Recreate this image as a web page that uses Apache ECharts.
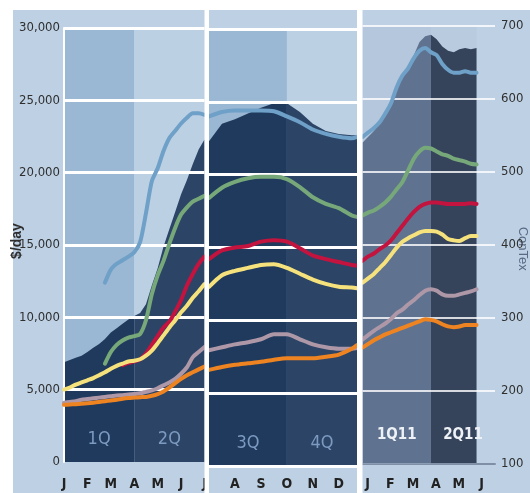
<!DOCTYPE html>
<html>
<head>
<meta charset="utf-8">
<script src="https://cdn.jsdelivr.net/npm/echarts@6/dist/echarts.min.js"></script>
<style>
  html, body { margin: 0; padding: 0; background: #fff; }
  #chart { width: 530px; height: 493px; }
</style>
</head>
<body>
<div id="chart"></div>
<script>
// Position of each sample in months (0 = start of Jan 2010)
const monthPos = [
  0, 0.25, 0.5, 0.75, 1, 1.25, 1.5, 1.75, 2, 2.25, 2.5, 2.75, 3, 3.25, 3.5, 3.75, 4, 4.25, 4.5, 4.75, 5, 5.25, 5.5, 5.75, 6,
  6.5, 7, 7.5, 8, 8.5, 9, 9.5, 10, 10.5, 11, 11.5, 11.7,
  12, 12.25, 12.5, 12.75, 13, 13.25, 13.5, 13.75, 14, 14.25, 14.5, 14.75, 15, 15.25, 15.5, 15.75, 16, 16.25, 16.5, 16.75, 17
];
const monthLetters = ['J', 'F', 'M', 'A', 'M', 'J', 'J', 'A', 'S', 'O', 'N', 'D'];

// Upper edge of the shaded range, $/day
const envelope = [
  6900, 7050, 7200, 7350, 7600, 7900, 8150, 8500, 8950, 9250, 9550, 9850, 10100, 10300, 10900, 12200, 13400, 14900, 16100, 17300, 18500, 19500, 20600, 21600, 22300,
  23500, 23800, 24200, 24600, 24900, 24900, 24300, 23500, 23000, 22800, 22700, 22700,
  22000, 22400, 22800, 23300, 23800, 24500, 25600, 26600, 27300, 28000, 28900, 29300, 29400, 29100, 28600, 28300, 28200, 28400, 28500, 28400, 28500
];

// Rate lines, $/day
const blueLine = [
  null, null, null, null, null, null, null, 12400, 13300, 13700, 13950, 14200, 14500, 15200, 17200, 19400, 20300, 21500, 22400, 22900, 23400, 23800, 24100, 24100, 24000,
  24300, 24400, 24400, 24400, 24350, 24000, 23600, 23100, 22800, 22600, 22500, 22600,
  22400, 22700, 23000, 23400, 24000, 24700, 25800, 26600, 27100, 27800, 28300, 28500, 28200, 28000, 27400, 27000, 26800, 26800, 26900, 26800, 26800
];
const greenLine = [
  null, null, null, null, null, null, null, 6800, 7600, 8100, 8400, 8600, 8700, 8850, 9800, 11600, 12900, 13900, 15100, 16200, 17100, 17600, 18000, 18200, 18400,
  19100, 19500, 19750, 19850, 19850, 19700, 19150, 18450, 18000, 17700, 17200, 17100,
  17000, 17200, 17350, 17600, 17900, 18300, 18800, 19300, 20100, 20900, 21400, 21650, 21600, 21400, 21200, 21100, 20900, 20800, 20700, 20550, 20500
];
const crimsonLine = [
  null, null, null, null, null, null, null, null, null, null, 6700, 6850, 6950, 7100, 7500, 8100, 8700, 9300, 9700, 10400, 11200, 12200, 13000, 13700, 14200,
  14800, 15000, 15100, 15400, 15500, 15400, 14950, 14450, 14200, 14000, 13800, 13750,
  13900, 14200, 14400, 14700, 14950, 15300, 15800, 16300, 16800, 17250, 17600, 17800, 17900, 17900, 17850, 17800, 17800, 17800, 17800, 17850, 17800
];
const yellowLine = [
  5000, 5150, 5350, 5500, 5650, 5800, 6000, 6200, 6450, 6650, 6800, 6950, 7000, 7100, 7350, 7700, 8200, 8750, 9300, 9800, 10350, 10800, 11350, 11800, 12300,
  13100, 13400, 13600, 13800, 13850, 13600, 13200, 12800, 12500, 12300, 12250, 12200,
  12400, 12700, 13000, 13400, 13800, 14300, 14800, 15200, 15450, 15650, 15850, 15950, 15950, 15900, 15700, 15400, 15300, 15250, 15450, 15600, 15600
];
const mauveLine = [
  4100, 4150, 4200, 4300, 4350, 4400, 4450, 4500, 4550, 4600, 4620, 4660, 4700, 4750, 4850, 4950, 5100, 5300, 5500, 5750, 6100, 6550, 7250, 7600, 7950,
  8150, 8350, 8500, 8700, 9050, 9050, 8700, 8350, 8150, 8050, 8050, 8100,
  8500, 8800, 9100, 9350, 9600, 9900, 10300, 10550, 10900, 11200, 11550, 11850, 11950, 11850, 11600, 11500, 11500, 11600, 11700, 11800, 11950
];
const orangeLine = [
  3950, 3970, 4000, 4030, 4060, 4100, 4150, 4200, 4250, 4300, 4370, 4420, 4450, 4480, 4500, 4580, 4700, 4880, 5150, 5450, 5750, 6000, 6200, 6400, 6600,
  6800, 6950, 7050, 7150, 7300, 7400, 7400, 7400, 7500, 7650, 8050, 8300,
  7950, 8200, 8450, 8650, 8850, 9000, 9150, 9300, 9450, 9600, 9750, 9900, 9850, 9750, 9550, 9400, 9350, 9400, 9500, 9500, 9500
];

// Quarters: label and month span
const quarterLabels = ['1Q', '2Q', '3Q', '4Q', '1Q11', '2Q11'];
const quarterStart = [0, 3, 6, 9, 12, 15];
const quarterEnd = [3, 6, 9, 12, 15, 18];

// ConTex scale on the right
const contexMin = 100, contexMax = 700, contexStep = 100;
const rateMax = 30000, rateStep = 5000;

// ---- layout and styles ----
const FONT = "'DejaVu Sans Condensed', 'Liberation Sans', sans-serif";
const panels = [
  { left: 64, width: 140.5, top: 28, height: 434, min: 0, max: 6 },
  { left: 209, width: 148, top: 29, height: 437, min: 6, max: 11.7 },
  { left: 362.5, width: 132.5, top: 26, height: 437.5, min: 12, max: 17.81 }
];
const quarterPanel = [0, 0, 1, 1, 2, 2];
const quarterStyle = [
  { upper: '#9ab7d4', lower: '#1f3a5c', text: '#7d9ac1', weight: 'normal', size: 18, labelY: 1550 },
  { upper: '#bcd0e4', lower: '#2c4567', text: '#7d9ac1', weight: 'normal', size: 18, labelY: 1550 },
  { upper: '#9ab7d4', lower: '#1f3a5c', text: '#7d9ac1', weight: 'normal', size: 18, labelY: 1550 },
  { upper: '#bcd0e4', lower: '#2c4567', text: '#7d9ac1', weight: 'normal', size: 18, labelY: 1550 },
  { upper: '#b4c7dc', lower: '#5f7391', text: '#eef2f7', weight: 'bold', size: 15, labelY: 1950 },
  { upper: '#b8cbdf', lower: '#35435b', text: '#eef2f7', weight: 'bold', size: 15, labelY: 1950 }
];
const lines = [
  { data: blueLine, color: '#6fa0c8' },
  { data: greenLine, color: '#77a879' },
  { data: crimsonLine, color: '#c3133f' },
  { data: yellowLine, color: '#f6e27c' },
  { data: mauveLine, color: '#ae97a7' },
  { data: orangeLine, color: '#ee8421' }
];

function dataYAxis(p) { return p === 2 ? 2 : p; }
function panelPoints(values, p, from, to) {
  const pts = [];
  monthPos.forEach((m, i) => {
    if (m >= from - 1e-9 && m <= to + 1e-9 && values[i] != null) pts.push([m, values[i]]);
  });
  return pts;
}
function lastMonthIn(p) {
  const inPanel = monthPos.filter(m => m >= panels[p].min && m <= panels[p].max);
  return inPanel[inPanel.length - 1];
}

const series = [];

// shaded range, one piece per quarter, with the quarter's backdrop and label
quarterLabels.forEach((label, q) => {
  const p = quarterPanel[q];
  const st = quarterStyle[q];
  const dataEnd = Math.min(quarterEnd[q], lastMonthIn(p));
  const axisEnd = Math.min(quarterEnd[q], panels[p].max);
  series.push({
    type: 'line',
    xAxisIndex: p,
    yAxisIndex: dataYAxis(p),
    data: panelPoints(envelope, p, quarterStart[q], dataEnd),
    showSymbol: false,
    silent: true,
    z: 2,
    lineStyle: { width: 0 },
    areaStyle: { color: st.lower, opacity: 1 },
    markArea: {
      silent: true,
      z: 1,
      itemStyle: { color: st.upper },
      label: { show: false },
      data: [[{ xAxis: quarterStart[q] }, { xAxis: dataEnd }]]
    },
    markPoint: {
      silent: true,
      symbol: 'circle',
      symbolSize: 0,
      label: {
        show: true, position: 'inside', formatter: label,
        color: st.text, fontFamily: FONT, fontSize: st.size, fontWeight: st.weight
      },
      data: [{ coord: [(quarterStart[q] + axisEnd) / 2, st.labelY] }]
    }
  });
});

// rate lines, drawn panel by panel
lines.forEach(ln => {
  panels.forEach((pn, p) => {
    const pts = panelPoints(ln.data, p, pn.min, pn.max);
    if (!pts.length) return;
    series.push({
      type: 'line',
      xAxisIndex: p,
      yAxisIndex: dataYAxis(p),
      data: pts,
      showSymbol: false,
      silent: true,
      smooth: 0.25,
      z: 4,
      lineStyle: { color: ln.color, width: 4, cap: 'round', join: 'round' }
    });
  });
});

const labelCenterY = 484;
function monthLabel(v) {
  const r = Math.round(v);
  return Math.abs(v - r) < 1e-6 ? monthLetters[r % 12] : '';
}
const xAxes = panels.map((pn, p) => ({
  type: 'value',
  gridIndex: p,
  min: pn.min,
  max: pn.max,
  interval: 1,
  splitLine: { show: false },
  axisTick: { show: false },
  axisLine: { show: p === 2, lineStyle: { color: '#7f8fa6', width: 2 } },
  axisLabel: {
    showMinLabel: p !== 1,
    margin: labelCenterY - 7 - (pn.top + pn.height),
    color: '#222',
    fontFamily: FONT,
    fontSize: 14,
    fontWeight: 'bold',
    padding: p === 2 ? [0, 0, 0, 10] : 0,
    formatter: monthLabel
  }
}));

const yAxes = [
  {
    type: 'value', gridIndex: 0, min: 0, max: rateMax, interval: rateStep, z: 3,
    axisLine: { show: true, lineStyle: { color: '#ffffff', width: 2 } },
    axisTick: { show: false },
    axisLabel: { margin: 4, color: '#2f2f2f', fontFamily: FONT, fontSize: 13 },
    splitLine: { show: true, showMinLine: false, lineStyle: { color: '#ffffff', width: 3 } },
    name: '$/day', nameLocation: 'middle', nameGap: 40, nameMoveOverlap: false,
    nameTextStyle: { color: '#2f2f2f', fontFamily: 'Liberation Sans, sans-serif', fontWeight: 'bold', fontSize: 14, padding: [0, 0, 0, 8] }
  },
  {
    type: 'value', gridIndex: 1, min: 0, max: rateMax, interval: rateStep, z: 3,
    axisLine: { show: false }, axisTick: { show: false }, axisLabel: { show: false },
    splitLine: { show: true, showMinLine: true, lineStyle: { color: '#ffffff', width: 3 } }
  },
  { type: 'value', gridIndex: 2, min: 0, max: rateMax, interval: rateStep, show: false },
  {
    type: 'value', gridIndex: 2, position: 'right', min: contexMin, max: contexMax, interval: contexStep, z: 3,
    axisLine: { show: false }, axisTick: { show: false },
    axisLabel: { margin: 6, color: '#2f2f2f', fontFamily: FONT, fontSize: 13 },
    splitLine: { show: true, showMinLine: false, lineStyle: { color: 'rgba(255,255,255,0.8)', width: 2 } },
    name: 'ConTex', nameLocation: 'middle', nameRotate: -90, nameGap: 21, nameMoveOverlap: false,
    nameTextStyle: { color: '#5a6a85', fontFamily: 'Liberation Sans, sans-serif', fontSize: 13, padding: [0, 0, 0, 8] }
  }
];

// white frame (behind everything) and panel separators (on top)
const graphics = [
  { type: 'rect', shape: { x: 0, y: 0, width: 530, height: 10 }, style: { fill: '#ffffff' }, z: -1, silent: true },
  { type: 'rect', shape: { x: 0, y: 0, width: 13, height: 493 }, style: { fill: '#ffffff' }, z: -1, silent: true }
];
for (let i = 0; i < panels.length - 1; i++) {
  const x0 = panels[i].left + panels[i].width;
  graphics.push({
    type: 'rect', silent: true, z: 100,
    shape: { x: x0, y: 0, width: panels[i + 1].left - x0, height: 493 },
    style: { fill: '#ffffff' }
  });
}

const chart = echarts.init(document.getElementById('chart'), null, { renderer: 'canvas' });
chart.setOption({
  animation: false,
  backgroundColor: '#bed1e4',
  grid: panels.map(pn => ({
    left: pn.left, top: pn.top, width: pn.width, height: pn.height,
    containLabel: false, outerBoundsMode: 'none'
  })),
  xAxis: xAxes,
  yAxis: yAxes,
  graphic: graphics,
  series: series
});
</script>
</body>
</html>
